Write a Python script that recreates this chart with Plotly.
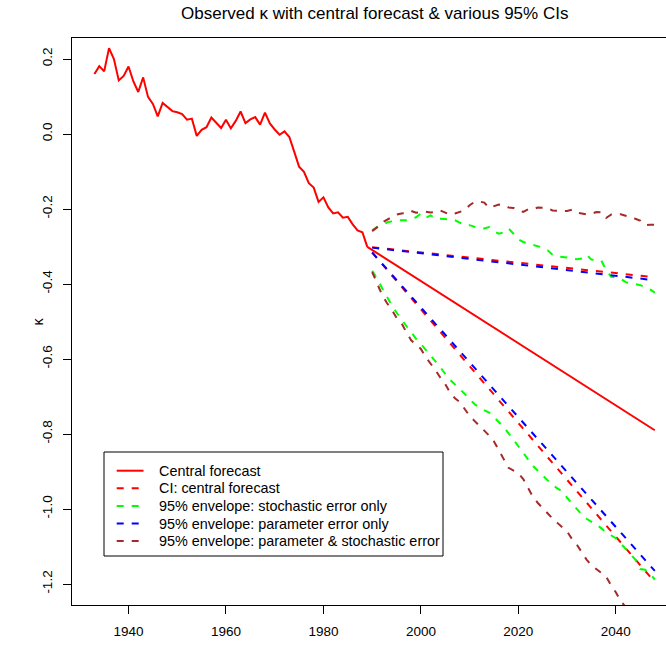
import plotly.graph_objects as go

# ---------------- data ----------------
obs_years = list(range(1933, 1990))
obs_kappa = [0.160, 0.181, 0.167, 0.229, 0.200, 0.143, 0.155, 0.180, 0.140, 0.112,
             0.151, 0.099, 0.080, 0.047, 0.083, 0.072, 0.061, 0.058, 0.053, 0.038,
             0.041, -0.005, 0.011, 0.018, 0.044, 0.030, 0.016, 0.038, 0.015, 0.035,
             0.060, 0.029, 0.039, 0.045, 0.025, 0.057, 0.028, 0.012, -0.002, 0.007,
             -0.008, -0.047, -0.087, -0.101, -0.131, -0.143, -0.181, -0.169, -0.196, -0.212,
             -0.209, -0.223, -0.221, -0.241, -0.257, -0.262, -0.301]

central_years = [1989, 2000, 2010, 2020, 2030, 2040, 2048]
central_kappa = [-0.301, -0.392, -0.475, -0.558, -0.641, -0.724, -0.790]

ci_years = [1990, 2000, 2010, 2020, 2030, 2040, 2048]
ci_central_upper = [-0.302, -0.316, -0.330, -0.344, -0.357, -0.370, -0.382]
ci_central_lower = [-0.316, -0.468, -0.619, -0.771, -0.922, -1.074, -1.195]
param_upper = [-0.303, -0.318, -0.333, -0.348, -0.362, -0.377, -0.390]
param_lower = [-0.316, -0.462, -0.608, -0.755, -0.901, -1.047, -1.165]

env_years = list(range(1990, 2049))
stoch_upper = [-0.257, -0.248, -0.243, -0.236, -0.233, -0.230, -0.230, -0.230, -0.227, -0.222,
               -0.212, -0.223, -0.217, -0.226, -0.226, -0.226, -0.228, -0.230, -0.236, -0.243,
               -0.243, -0.248, -0.252, -0.252, -0.248, -0.259, -0.266, -0.262, -0.252, -0.266,
               -0.281, -0.288, -0.292, -0.297, -0.301, -0.303, -0.310, -0.322, -0.327, -0.327,
               -0.329, -0.332, -0.334, -0.332, -0.322, -0.335, -0.337, -0.337, -0.362, -0.380,
               -0.383, -0.386, -0.395, -0.397, -0.401, -0.403, -0.408, -0.414, -0.423]
stoch_lower = [-0.365, -0.385, -0.410, -0.435, -0.456, -0.476, -0.495, -0.512, -0.528, -0.546,
               -0.560, -0.575, -0.590, -0.606, -0.622, -0.640, -0.656, -0.668, -0.680, -0.693,
               -0.707, -0.720, -0.730, -0.736, -0.743, -0.755, -0.768, -0.782, -0.798, -0.815,
               -0.830, -0.850, -0.868, -0.885, -0.898, -0.911, -0.925, -0.936, -0.945, -0.953,
               -0.970, -0.985, -1.002, -1.015, -1.026, -1.033, -1.042, -1.051, -1.062, -1.070,
               -1.078, -1.092, -1.105, -1.120, -1.135, -1.160, -1.162, -1.172, -1.188]
both_upper = [-0.259, -0.249, -0.236, -0.229, -0.222, -0.215, -0.212, -0.210, -0.205, -0.210,
              -0.209, -0.207, -0.209, -0.208, -0.204, -0.210, -0.215, -0.212, -0.207, -0.203,
              -0.190, -0.181, -0.180, -0.183, -0.197, -0.193, -0.188, -0.190, -0.196, -0.197,
              -0.202, -0.208, -0.201, -0.201, -0.196, -0.196, -0.197, -0.204, -0.205, -0.205,
              -0.205, -0.202, -0.210, -0.212, -0.214, -0.213, -0.208, -0.209, -0.224, -0.215,
              -0.214, -0.214, -0.218, -0.221, -0.226, -0.231, -0.243, -0.242, -0.242]
both_lower = [-0.368, -0.398, -0.428, -0.450, -0.468, -0.490, -0.504, -0.528, -0.550, -0.562,
              -0.573, -0.595, -0.612, -0.630, -0.650, -0.667, -0.690, -0.705, -0.715, -0.735,
              -0.752, -0.765, -0.778, -0.790, -0.804, -0.820, -0.842, -0.867, -0.890, -0.898,
              -0.905, -0.920, -0.945, -0.968, -0.984, -0.998, -1.011, -1.025, -1.037, -1.048,
              -1.060, -1.080, -1.095, -1.115, -1.135, -1.150, -1.160, -1.168, -1.180, -1.203,
              -1.222, -1.245, -1.262, -1.278, -1.293, -1.310, -1.325, -1.342, -1.360]

x_tick_vals = [1940, 1960, 1980, 2000, 2020, 2040]
x_tick_text = ["1940", "1960", "1980", "2000", "2020", "2040"]
y_tick_vals = [-1.2, -1.0, -0.8, -0.6, -0.4, -0.2, 0.0, 0.2]
y_tick_text = ["-1.2", "-1.0", "-0.8", "-0.6", "-0.4", "-0.2", "0.0", "0.2"]

legend_labels = ["Central forecast", "CI: central forecast",
                 "95% envelope: stochastic error only",
                 "95% envelope: parameter error only",
                 "95% envelope: parameter & stochastic error"]
legend_colors = ["#FF0000", "#FF0000", "#00FF00", "#0000FF", "#A52A2A"]
legend_dash = ["solid", "7px,8px", "7px,8px", "7px,8px", "7px,8px"]

title_text = "Observed \u03ba with central forecast & various 95% CIs"
ylabel_text = "\u03ba"

# ---------------- layout geometry ----------------
W, H = 666, 645
L, R, T, B = 72, 666, 38, 605
FONT = "Liberation Sans, Arial, Helvetica, sans-serif"
DASH = "7px,8px"
LW = 2


def px(xp):
    return (xp - L) / (R - L)


def py(yp):
    return (B - yp) / (B - T)


fig = go.Figure()


def add_line(x, y, color, dash, name):
    fig.add_trace(go.Scatter(x=x, y=y, mode="lines", name=name, showlegend=False,
                             line=dict(color=color, width=LW, dash=dash),
                             hoverinfo="skip"))


add_line(obs_years, obs_kappa, "#FF0000", "solid", "Observed")
add_line(central_years, central_kappa, "#FF0000", "solid", legend_labels[0])
add_line(ci_years, ci_central_upper, "#FF0000", DASH, legend_labels[1])
add_line(ci_years, ci_central_lower, "#FF0000", DASH, legend_labels[1])
add_line(env_years, stoch_upper, "#00FF00", DASH, legend_labels[2])
add_line(env_years, stoch_lower, "#00FF00", DASH, legend_labels[2])
add_line(ci_years, param_upper, "#0000FF", DASH, legend_labels[3])
add_line(ci_years, param_lower, "#0000FF", DASH, legend_labels[3])
add_line(env_years, both_upper, "#A52A2A", DASH, legend_labels[4])
add_line(env_years, both_lower, "#A52A2A", DASH, legend_labels[4])

shapes = []
annotations = []

# legend box
lg_x0, lg_x1, lg_y0, lg_y1 = 104, 443, 452, 556
shapes.append(dict(type="rect", xref="paper", yref="paper",
                   x0=px(lg_x0), x1=px(lg_x1), y0=py(lg_y1), y1=py(lg_y0),
                   line=dict(color="#000000", width=1), fillcolor="white", layer="above"))
row_y = [470.7, 488.3, 506.0, 523.5, 541.0]
for i, lab in enumerate(legend_labels):
    shapes.append(dict(type="line", xref="paper", yref="paper",
                       x0=px(116.7), x1=px(143.5), y0=py(row_y[i]), y1=py(row_y[i]),
                       line=dict(color=legend_colors[i], width=LW, dash=legend_dash[i]),
                       layer="above"))
    annotations.append(dict(text=lab, xref="paper", yref="paper",
                            x=px(156.5), y=py(row_y[i]), xanchor="left", yanchor="middle",
                            showarrow=False, font=dict(family=FONT, size=14.4, color="#000000")))

# title
annotations.append(dict(text=title_text, xref="paper", yref="paper",
                        x=px(374.5), y=py(13), xanchor="center", yanchor="middle",
                        showarrow=False, font=dict(family=FONT, size=17, color="#000000")))
# y label
annotations.append(dict(text=ylabel_text, xref="paper", yref="paper",
                        x=px(37), y=py(321.5), xanchor="center", yanchor="middle",
                        textangle=-90, showarrow=False,
                        font=dict(family=FONT, size=14.4, color="#000000")))

fig.update_layout(
    width=W, height=H,
    margin=dict(l=L, r=W - R, t=T, b=H - B, pad=0),
    paper_bgcolor="white", plot_bgcolor="white",
    showlegend=False,
    shapes=shapes, annotations=annotations,
    font=dict(family=FONT, size=14, color="#000000"),
    xaxis=dict(range=[1928.4, 2050.3], showgrid=False, zeroline=False,
               showline=True, linecolor="#000000", linewidth=1, mirror=True,
               ticks="outside", ticklen=8, tickwidth=1, tickcolor="#000000",
               tickvals=x_tick_vals, ticktext=x_tick_text,
               tickfont=dict(family=FONT, size=13.5, color="#000000"),
               ticklabelstandoff=6),
    yaxis=dict(range=[-1.256, 0.256], showgrid=False, zeroline=False,
               showline=True, linecolor="#000000", linewidth=1,
               ticks="outside", ticklen=8, tickwidth=1, tickcolor="#000000",
               tickvals=y_tick_vals, ticktext=y_tick_text, tickangle=-90,
               tickfont=dict(family=FONT, size=13.5, color="#000000"),
               ticklabelstandoff=6),
)

fig.write_html("out.html")
